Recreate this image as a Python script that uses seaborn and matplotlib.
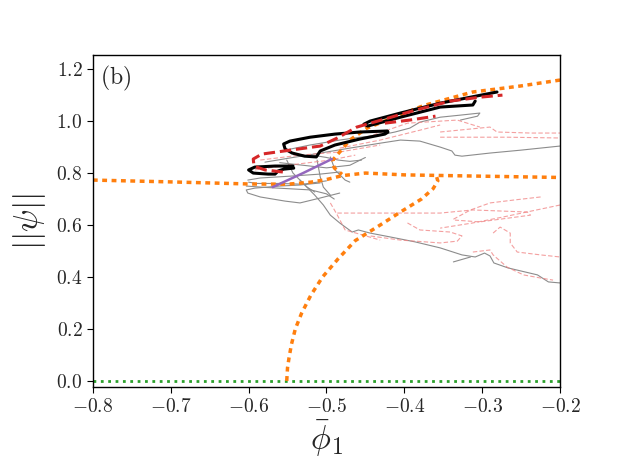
import seaborn as sns
import matplotlib.pyplot as plt
from matplotlib.ticker import FuncFormatter

# ---- data ----
xticks = [-0.8, -0.7, -0.6, -0.5, -0.4, -0.3, -0.2]
yticks = [0.0, 0.2, 0.4, 0.6, 0.8, 1.0, 1.2]

# trivial branch
green_x = [-0.8, -0.2]
green_y = [0.0, 0.0]

# orange dotted branches
o1_x = [-0.8, -0.7, -0.6, -0.55, -0.52, -0.5, -0.48, -0.45, -0.4, -0.3, -0.2]
o1_y = [0.773, 0.766, 0.758, 0.757, 0.765, 0.775, 0.79, 0.80, 0.793, 0.788, 0.783]
o2_x = [-0.551, -0.550, -0.548, -0.545, -0.540, -0.532, -0.520, -0.505, -0.485,
        -0.463, -0.431, -0.405, -0.378, -0.363, -0.357, -0.359]
o2_y = [0.0, 0.05, 0.09, 0.14, 0.20, 0.26, 0.33, 0.40, 0.47,
        0.54, 0.60, 0.65, 0.70, 0.74, 0.77, 0.79]
o3_x = [-0.2, -0.251, -0.312, -0.375, -0.422, -0.448, -0.470, -0.483, -0.492, -0.49, -0.48]
o3_y = [1.158, 1.135, 1.112, 1.060, 1.004, 0.973, 0.927, 0.881, 0.85, 0.82, 0.795]

# black (stable) pieces
b1_x = [-0.543, -0.566, -0.592, -0.600, -0.594, -0.575, -0.566, -0.562, -0.555, -0.542]
b1_y = [0.827, 0.827, 0.823, 0.812, 0.800, 0.796, 0.796, 0.808, 0.815, 0.819]
b2_x = [-0.422, -0.457, -0.489, -0.521, -0.547, -0.555, -0.553, -0.544, -0.528,
        -0.513, -0.508, -0.489, -0.457, -0.425, -0.421]
b2_y = [0.962, 0.958, 0.950, 0.938, 0.923, 0.912, 0.892, 0.877, 0.865,
        0.862, 0.885, 0.908, 0.931, 0.950, 0.958]
b3_x = [-0.281, -0.315, -0.354, -0.405, -0.444, -0.452, -0.447, -0.405, -0.354, -0.312, -0.309]
b3_y = [1.112, 1.092, 1.069, 1.031, 1.000, 0.988, 0.981, 1.015, 1.054, 1.062, 1.077]

# red dashed pieces
r1_x = [-0.556, -0.579, -0.593, -0.594, -0.583, -0.547, -0.508, -0.486, -0.461,
        -0.425, -0.386, -0.341, -0.303, -0.274]
r1_y = [0.804, 0.812, 0.827, 0.854, 0.873, 0.888, 0.904, 0.935, 0.977,
        1.008, 1.042, 1.077, 1.092, 1.100]
r2_x = [-0.425, -0.393, -0.360]
r2_y = [0.992, 1.004, 1.019]

# purple segment
p_x = [-0.569, -0.530, -0.493]
p_y = [0.746, 0.800, 0.854]

# grey solid branches
g1_x = [-0.2, -0.251, -0.290, -0.326, -0.335, -0.339, -0.354, -0.380, -0.405,
        -0.431, -0.470, -0.508, -0.547, -0.579]
g1_y = [0.904, 0.888, 0.877, 0.865, 0.869, 0.885, 0.900, 0.923, 0.927,
        0.915, 0.896, 0.877, 0.858, 0.842]
g2_x = [-0.328, -0.306, -0.303, -0.328, -0.354, -0.380, -0.393, -0.412, -0.431,
        -0.457, -0.483, -0.521, -0.553]
g2_y = [1.004, 1.019, 1.031, 1.023, 1.015, 0.996, 0.973, 0.958, 0.946,
        0.938, 0.927, 0.908, 0.888]
g3_x = [-0.534, -0.515, -0.504, -0.495, -0.483, -0.467, -0.459, -0.444, -0.418,
        -0.386, -0.354, -0.326, -0.309, -0.297, -0.290, -0.285, -0.267, -0.229,
        -0.215, -0.2]
g3_y = [0.773, 0.715, 0.677, 0.638, 0.608, 0.573, 0.581, 0.569, 0.554,
        0.535, 0.512, 0.485, 0.477, 0.492, 0.481, 0.454, 0.435, 0.408,
        0.381, 0.377]
g4_x = [-0.337, -0.315]
g4_y = [0.458, 0.477]
g5_x = [-0.483, -0.508, -0.534, -0.553, -0.585, -0.601, -0.603, -0.592, -0.560,
        -0.534, -0.508]
g5_y = [0.723, 0.704, 0.685, 0.692, 0.708, 0.723, 0.735, 0.742, 0.750,
        0.754, 0.762]
g6_x = [-0.601, -0.585, -0.547, -0.508, -0.483]
g6_y = [0.773, 0.781, 0.788, 0.796, 0.804]
g7_x = [-0.551, -0.543, -0.534, -0.525, -0.515]
g7_y = [0.850, 0.800, 0.773, 0.746, 0.727]
g8_x = [-0.512, -0.508, -0.504, -0.495]
g8_y = [0.850, 0.785, 0.746, 0.715]
g9_x = [-0.495, -0.489, -0.476, -0.470]
g9_y = [0.862, 0.812, 0.773, 0.765]
g10_x = [-0.603, -0.580, -0.550, -0.520, -0.500, -0.490]
g10_y = [0.750, 0.745, 0.740, 0.735, 0.720, 0.700]
g11_x = [-0.600, -0.590, -0.560, -0.530, -0.500]
g11_y = [0.765, 0.760, 0.760, 0.757, 0.770]
g12_x = [-0.560, -0.530, -0.500, -0.470, -0.450]
g12_y = [0.840, 0.830, 0.820, 0.830, 0.860]
g13_x = [-0.520, -0.500, -0.485, -0.470, -0.455]
g13_y = [0.870, 0.860, 0.850, 0.845, 0.850]

# pale red dashed branches
q1_x = [-0.354, -0.312, -0.268, -0.2]
q1_y = [0.938, 0.938, 0.938, 0.935]
q2_x = [-0.354, -0.290, -0.281, -0.238, -0.2]
q2_y = [0.958, 0.977, 0.958, 0.954, 0.954]
q3_x = [-0.448, -0.396, -0.332, -0.303]
q3_y = [0.938, 0.992, 1.004, 0.977]
q4_x = [-0.483, -0.431, -0.380, -0.354]
q4_y = [0.896, 0.927, 0.965, 0.985]
q5_x = [-0.585, -0.534, -0.483, -0.431]
q5_y = [0.850, 0.869, 0.881, 0.908]
q6_x = [-0.486, -0.405, -0.354, -0.312, -0.242, -0.238, -0.303, -0.335]
q6_y = [0.646, 0.646, 0.646, 0.658, 0.650, 0.638, 0.612, 0.619]
q7_x = [-0.2, -0.273, -0.312, -0.354]
q7_y = [0.677, 0.631, 0.608, 0.588]
q8_x = [-0.225, -0.260, -0.290, -0.315, -0.339]
q8_y = [0.708, 0.696, 0.685, 0.658, 0.619]
q9_x = [-0.396, -0.380, -0.341, -0.326, -0.332, -0.354, -0.405, -0.444]
q9_y = [0.608, 0.581, 0.573, 0.558, 0.538, 0.531, 0.542, 0.558]
q10_x = [-0.286, -0.277, -0.264, -0.264, -0.255, -0.225, -0.2]
q10_y = [0.569, 0.592, 0.569, 0.531, 0.496, 0.485, 0.477]
q11_x = [-0.312, -0.290, -0.286, -0.268, -0.247, -0.225, -0.209]
q11_y = [0.496, 0.504, 0.485, 0.438, 0.408, 0.396, 0.388]
q12_x = [-0.495, -0.486, -0.476, -0.431]
q12_y = [0.685, 0.638, 0.581, 0.542]
q13_x = [-0.592, -0.547, -0.495, -0.463]
q13_y = [0.812, 0.831, 0.850, 0.869]

# ---- style ----
sns.set_style('ticks')
plt.rcParams['mathtext.fontset'] = 'cm'
plt.rcParams['font.family'] = ['DejaVu Serif']

fig, ax = plt.subplots(figsize=(6.23, 4.67), dpi=100)
fig.subplots_adjust(left=0.149, right=0.899, bottom=0.171, top=0.882)


def draw(xs, ys, **kw):
    sns.lineplot(x=xs, y=ys, sort=False, estimator=None, ax=ax, **kw)


grey = dict(color='#8c8c8c', lw=0.8, zorder=1)
for xs, ys in [(g1_x, g1_y), (g2_x, g2_y), (g3_x, g3_y), (g4_x, g4_y), (g5_x, g5_y),
               (g6_x, g6_y), (g7_x, g7_y), (g8_x, g8_y), (g9_x, g9_y), (g10_x, g10_y),
               (g11_x, g11_y), (g12_x, g12_y), (g13_x, g13_y)]:
    draw(xs, ys, **grey)

pink = dict(color='#f08080', lw=0.8, alpha=0.75, linestyle=(0, (4, 2)), zorder=1)
for xs, ys in [(q1_x, q1_y), (q2_x, q2_y), (q3_x, q3_y), (q4_x, q4_y), (q5_x, q5_y),
               (q6_x, q6_y), (q7_x, q7_y), (q8_x, q8_y), (q9_x, q9_y), (q10_x, q10_y),
               (q11_x, q11_y), (q12_x, q12_y), (q13_x, q13_y)]:
    draw(xs, ys, **pink)

draw(green_x, green_y, color='#2ca02c', lw=2, linestyle=':', zorder=2)

orange = dict(color='#ff7f0e', lw=2.5, linestyle=(0, (1.4, 1.3)), zorder=2)
for xs, ys in [(o1_x, o1_y), (o2_x, o2_y), (o3_x, o3_y)]:
    draw(xs, ys, **orange)

for xs, ys in [(b1_x, b1_y), (b2_x, b2_y), (b3_x, b3_y)]:
    draw(xs, ys, color='black', lw=2.2, zorder=3)

for xs, ys in [(r1_x, r1_y), (r2_x, r2_y)]:
    draw(xs, ys, color='#d62728', lw=2.2, linestyle='--', zorder=4)

draw(p_x, p_y, color='#9467bd', lw=1.8, zorder=5)

ax.set_xlim(-0.8, -0.2)
ax.set_ylim(-0.024, 1.254)
ax.set_xticks(xticks)
ax.set_yticks(yticks)
ax.xaxis.set_major_formatter(FuncFormatter(lambda v, pos: f'${v:.1f}$'))
ax.yaxis.set_major_formatter(FuncFormatter(lambda v, pos: f'${v:.1f}$'))
ax.tick_params(labelsize=14, direction='out', length=4, color='black')
for s in ax.spines.values():
    s.set_color('black')
    s.set_linewidth(1.0)

ax.set_xlabel(r'$\bar{\phi}_1$', fontsize=24, labelpad=2)
ax.set_ylabel(r'$||\psi||$', fontsize=24, labelpad=6)
ax.text(0.015, 0.975, r'$\mathrm{(b)}$', transform=ax.transAxes, fontsize=17,
        ha='left', va='top')

fig.savefig('out.png', dpi=100)
